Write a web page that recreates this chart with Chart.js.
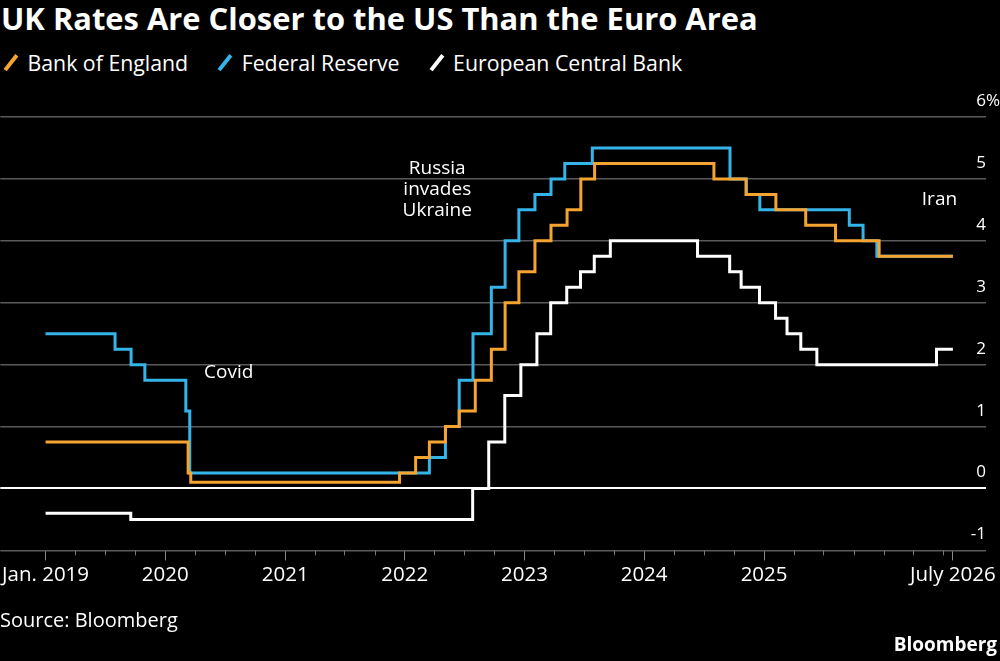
<!DOCTYPE html>
<html>
<head>
<meta charset="utf-8">
<script src="https://cdn.jsdelivr.net/npm/chart.js@4.4.1/dist/chart.umd.min.js"></script>
<style>
    html, body { margin: 0; padding: 0; background: #000; }
    #wrap { position: relative; width: 1000px; height: 661px; background: #000; color: #fff; font-family: 'Open Sans', sans-serif; overflow: hidden; }
    #title { position: absolute; left: 1px; top: -3px; font-weight: bold; font-size: 30.9px; white-space: nowrap; }
    #legend { position: absolute; left: 0; top: 48px; font-size: 21.3px; display: flex; white-space: nowrap; }
    .item { display: flex; align-items: center; margin-right: 26px; }
    .mark { display: inline-block; width: 3.5px; height: 19px; transform: rotate(38deg); margin: 0 15px 0 9px; }
    #source { position: absolute; left: 0; top: 606px; font-size: 20px; }
    #logo { position: absolute; right: 3px; top: 631px; font-size: 19px; font-weight: bold; }
    #chart { position: absolute; left: 0; top: 0; }
</style>
</head>
<body>
<div id="wrap">
    <div id="title">UK Rates Are Closer to the US Than the Euro Area</div>
    <div id="legend"></div>
    <canvas id="chart" width="1000" height="661"></canvas>
    <div id="source">Source: Bloomberg</div>
    <div id="logo">Bloomberg</div>
</div>
<script>
// Policy rates, % (date of change, new rate; last entry = end of data)
var boeDates = ['2019-01-01', '2020-03-11', '2020-03-19', '2021-12-16', '2022-02-03', '2022-03-17', '2022-05-05',
    '2022-06-16', '2022-08-04', '2022-09-22', '2022-11-03', '2022-12-15', '2023-02-02', '2023-03-23', '2023-05-11',
    '2023-06-22', '2023-08-03', '2024-08-01', '2024-11-07', '2025-02-06', '2025-05-08', '2025-08-07', '2025-12-18',
    '2026-07-31'];
var boeRates = [0.75, 0.25, 0.1, 0.25, 0.5, 0.75, 1.0, 1.25, 1.75, 2.25, 3.0, 3.5, 4.0, 4.25, 4.5, 5.0, 5.25, 5.0,
    4.75, 4.5, 4.25, 4.0, 3.75, 3.75];

var fedDates = ['2019-01-01', '2019-08-01', '2019-09-19', '2019-10-31', '2020-03-04', '2020-03-16', '2022-03-17',
    '2022-05-05', '2022-06-16', '2022-07-28', '2022-09-22', '2022-11-03', '2022-12-15', '2023-02-02', '2023-03-23',
    '2023-05-04', '2023-07-27', '2024-09-19', '2024-11-08', '2024-12-19', '2025-09-18', '2025-10-30', '2025-12-11',
    '2026-07-31'];
var fedRates = [2.5, 2.25, 2.0, 1.75, 1.25, 0.25, 0.5, 1.0, 1.75, 2.5, 3.25, 4.0, 4.5, 4.75, 5.0, 5.25, 5.5, 5.0,
    4.75, 4.5, 4.25, 4.0, 3.75, 3.75];

var ecbDates = ['2019-01-01', '2019-09-18', '2022-07-27', '2022-09-14', '2022-11-02', '2022-12-21', '2023-02-08',
    '2023-03-22', '2023-05-10', '2023-06-21', '2023-08-02', '2023-09-20', '2024-06-12', '2024-09-18', '2024-10-23',
    '2024-12-18', '2025-02-05', '2025-03-12', '2025-04-23', '2025-06-11', '2026-06-11', '2026-07-31'];
var ecbRates = [-0.4, -0.5, 0, 0.75, 1.5, 2.0, 2.5, 3.0, 3.25, 3.5, 3.75, 4.0, 3.75, 3.5, 3.25, 3.0, 2.75, 2.5,
    2.25, 2.0, 2.25, 2.25];

// x axis
var xMin = '2018-08-16';
var xMax = '2026-11-09';
var xTickDates = ['2019-01-01', '2020-01-01', '2021-01-01', '2022-01-01', '2023-01-01', '2024-01-01', '2025-01-01', '2026-07-31'];
var xTickLabels = ['Jan. 2019', '2020', '2021', '2022', '2023', '2024', '2025', 'July 2026'];
var minorTickDates = ['2019-04-01', '2019-07-01', '2019-10-01', '2020-04-01', '2020-07-01', '2020-10-01',
    '2021-04-01', '2021-07-01', '2021-10-01', '2022-04-01', '2022-07-01', '2022-10-01', '2023-04-01', '2023-07-01',
    '2023-10-01', '2024-04-01', '2024-07-01', '2024-10-01', '2025-04-01', '2025-07-01', '2025-10-01', '2026-01-01',
    '2026-04-01', '2026-07-01'];

// y axis
var yTicks = [-1, 0, 1, 2, 3, 4, 5, 6];

// annotations
var noteTexts = [['Covid'], ['Russia', 'invades', 'Ukraine'], ['Iran']];
var noteDates = ['2020-07-13', '2022-04-10', '2026-06-20'];
var noteValues = [1.87, 4.82, 4.67];

var seriesNames = ['Bank of England', 'Federal Reserve', 'European Central Bank'];
var seriesColors = ['#f6a431', '#34b4e9', '#ffffff'];

var FONT = "'Open Sans', sans-serif";

function t(d) { return Date.parse(d); }

function points(dates, rates) {
    return dates.map(function(d, i) { return { x: t(d), y: rates[i] }; });
}

// legend
var legend = document.getElementById('legend');
seriesNames.forEach(function(name, i) {
    var item = document.createElement('div');
    item.className = 'item';
    item.innerHTML = '<span class="mark" style="background:' + seriesColors[i] + '"></span>' + name;
    legend.appendChild(item);
});

var extras = {
    id: 'extras',
    afterDraw: function(chart) {
        var ctx = chart.ctx, area = chart.chartArea;
        var xs = chart.scales.x, ys = chart.scales.y;
        ctx.save();
        // minor ticks
        ctx.strokeStyle = '#777';
        ctx.lineWidth = 1;
        minorTickDates.forEach(function(d) {
            var px = Math.round(xs.getPixelForValue(t(d))) + 0.5;
            ctx.beginPath();
            ctx.moveTo(px, area.bottom);
            ctx.lineTo(px, area.bottom + 5);
            ctx.stroke();
        });
        // y labels above gridlines
        ctx.fillStyle = '#fff';
        ctx.font = '17px ' + FONT;
        ctx.textBaseline = 'alphabetic';
        yTicks.forEach(function(v) {
            var py = ys.getPixelForValue(v);
            ctx.textAlign = 'right';
            ctx.fillText(String(v), area.right, py - 11);
            if (v === yTicks[yTicks.length - 1]) {
                ctx.textAlign = 'left';
                ctx.fillText('%', area.right, py - 11);
            }
        });
        // annotations
        ctx.font = '19px ' + FONT;
        ctx.textAlign = 'center';
        ctx.textBaseline = 'middle';
        noteTexts.forEach(function(lines, i) {
            var px = xs.getPixelForValue(t(noteDates[i]));
            var py = ys.getPixelForValue(noteValues[i]);
            var lh = 21;
            var top = py - (lines.length - 1) * lh / 2;
            lines.forEach(function(line, j) {
                ctx.fillText(line, px, top + j * lh);
            });
        });
        ctx.restore();
    }
};

function line(label, dates, rates, color) {
    return {
        label: label,
        data: points(dates, rates),
        borderColor: color,
        borderWidth: 3,
        stepped: true,
        pointRadius: 0,
        fill: false
    };
}

new Chart(document.getElementById('chart'), {
    type: 'line',
    data: {
        // first dataset is drawn on top
        datasets: [
            line(seriesNames[2], ecbDates, ecbRates, seriesColors[2]),
            line(seriesNames[0], boeDates, boeRates, seriesColors[0]),
            line(seriesNames[1], fedDates, fedRates, seriesColors[1])
        ]
    },
    options: {
        responsive: false,
        animation: false,
        layout: { padding: { top: 117, left: 0, right: 14, bottom: 72 } },
        plugins: {
            legend: { display: false },
            tooltip: { enabled: false }
        },
        scales: {
            x: {
                type: 'linear',
                min: t(xMin),
                max: t(xMax),
                afterBuildTicks: function(scale) {
                    scale.ticks = xTickDates.map(function(d) { return { value: t(d) }; });
                },
                ticks: {
                    autoSkip: false,
                    maxRotation: 0,
                    color: '#fff',
                    font: { family: FONT, size: 20.5 },
                    padding: 2,
                    callback: function(value, index) { return xTickLabels[index]; }
                },
                grid: { drawOnChartArea: false, tickLength: 10, color: '#888', lineWidth: 1 },
                border: { display: false }
            },
            y: {
                position: 'right',
                min: -1,
                max: 6,
                afterBuildTicks: function(scale) {
                    scale.ticks = yTicks.map(function(v) { return { value: v }; });
                },
                ticks: { display: false },
                grid: {
                    drawTicks: false,
                    color: function(c) { return c.tick && c.tick.value === 0 ? '#ffffff' : '#5a5a5a'; },
                    lineWidth: function(c) { return c.tick && c.tick.value === 0 ? 2 : 1.5; }
                },
                border: { display: false }
            }
        }
    },
    plugins: [extras]
});
</script>
</body>
</html>
